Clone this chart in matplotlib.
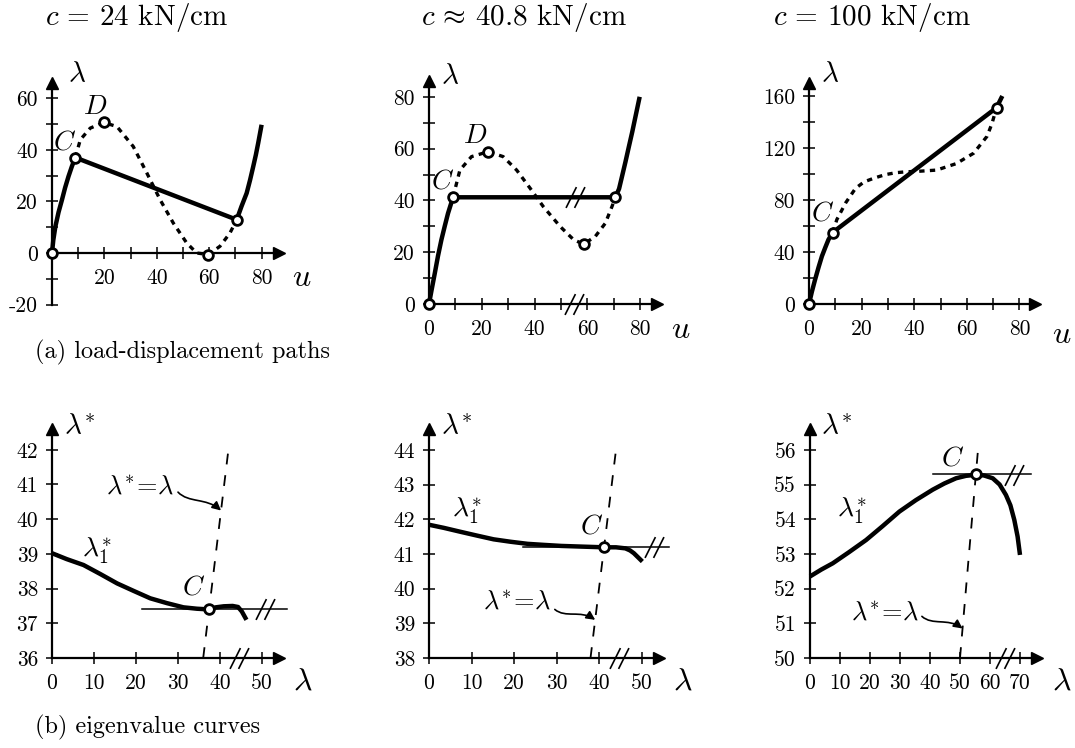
import numpy as np
import matplotlib
matplotlib.use("Agg")
import matplotlib.pyplot as plt
from matplotlib.path import Path
from matplotlib.patches import FancyArrowPatch
from matplotlib.transforms import IdentityTransform

plt.rcParams["font.family"] = ["cmr10", "DejaVu Serif"]
plt.rcParams["mathtext.fontset"] = "cm"
plt.rcParams["axes.unicode_minus"] = False

W, H = 1075, 748

# ------------------------------------------------------------
# DATA
# ------------------------------------------------------------
titles = [r"$c\,=\,24$ kN/cm", r"$c\,\approx\,40.8$ kN/cm", r"$c\,=\,100$ kN/cm"]

# (a) load-displacement paths: u, lambda
a1_solid_u = [0, 0.5, 1.3, 2.5, 3.8, 5.0, 6.3, 7.6, 8.9, 70.5, 72.3, 74.3, 75.6, 76.8, 77.8, 78.7, 80]
a1_solid_l = [0, 5.0, 10.3, 15.8, 20.6, 25.3, 29.7, 33.6, 37, 12.9, 18.0, 23.2, 28.3, 33.5, 38.0, 42.6, 49.7]
a1_dot_u = [8.9, 10.8, 14.6, 19.7, 24.8, 31, 36.2, 41.3, 46.3, 51.4, 55.2, 59.7, 64.1, 67.9, 70.5]
a1_dot_l = [37, 43.9, 48.4, 50.6, 49, 41.3, 31, 20.6, 11.6, 3.9, 0, -0.6, 2.6, 7.7, 12.9]
a1_pts_u = [0, 8.9, 19.7, 59.7, 70.5]
a1_pts_l = [0, 37, 50.6, -0.6, 12.9]

a2_solid_u = [0, 1.0, 2.2, 3.4, 4.7, 6.0, 7.2, 9.1, 70.6, 72.0, 73.1, 74.4, 75.7, 77.0, 78.2, 79.8]
a2_solid_l = [0, 5.5, 11.9, 18.5, 24.8, 30.2, 35, 41.2, 41.2, 44.5, 49.2, 54.8, 60.7, 66.5, 72.3, 80]
a2_dot_u = [9.1, 11.7, 16.1, 22.4, 28.1, 33.2, 38.3, 43.3, 49.7, 54.8, 58.6, 63, 66.8, 69.3, 70.6]
a2_dot_l = [41.2, 51.7, 56.9, 58.8, 56.9, 51.7, 44.7, 37.6, 29.9, 24.8, 23.1, 26.1, 31.2, 37.6, 41.2]
a2_pts_u = [0, 9.1, 22.4, 58.6, 70.6]
a2_pts_l = [0, 41.2, 58.8, 23.1, 41.2]

a3_solid_u = [0, 1.1, 2.3, 3.6, 4.9, 6.2, 7.4, 9, 71.3, 73.5]
a3_solid_l = [0, 9.5, 18.7, 28.0, 36.7, 43.5, 49.5, 55, 151, 160]
a3_dot_u = [9, 10.6, 14.0, 17.7, 21.0, 25, 29, 33, 37, 41, 48.5, 56, 62.6, 67.7, 69.6, 71.3]
a3_dot_l = [55, 65, 78, 89, 94, 97, 99.5, 101, 101.7, 102, 103, 108, 116, 129, 139, 151]
a3_pts_u = [0, 9, 71.3]
a3_pts_l = [0, 55, 151]

# (b) eigenvalue curves: lambda, lambda*_1
b1_lam = [0, 3.5, 7.5, 11.5, 15.5, 19.5, 23.4, 27.4, 31.3, 34.5, 37.4, 39, 40.9, 43, 44.3, 45.2, 46.3]
b1_eig = [39.02, 38.85, 38.68, 38.42, 38.15, 37.93, 37.72, 37.58, 37.46, 37.42, 37.40, 37.46, 37.49, 37.5, 37.47, 37.34, 37.1]
b2_lam = [0, 3.5, 7.3, 11.2, 15.2, 19.2, 23.2, 27, 31.1, 36, 41.2, 44, 46.2, 47.3, 48.2, 49.2, 50.2]
b2_eig = [41.84, 41.75, 41.64, 41.53, 41.42, 41.35, 41.29, 41.26, 41.23, 41.21, 41.19, 41.19, 41.16, 41.1, 41.02, 40.9, 40.78]
b3_lam = [0, 3.8, 7.6, 13, 18.7, 24.2, 29.8, 35.3, 40.9, 44.8, 48.7, 52, 55.3, 58, 60.9, 63.2, 65.3, 66.8, 68.1, 69.2, 70]
b3_eig = [52.35, 52.55, 52.73, 53.05, 53.4, 53.8, 54.22, 54.55, 54.85, 55.03, 55.18, 55.25, 55.28, 55.26, 55.18,
          55.0, 54.7, 54.4, 53.98, 53.5, 52.97]

# critical points C (lambda* = lambda)
b_crit = [37.4, 41.2, 55.3]
# horizontal tangents through C: lambda range
b_tangent = [(21.4, 56), (22, 56.5), (40.9, 73.7)]
# dashed line lambda* = lambda, lambda range
b_diag = [(36, 42), (38, 44), (50, 56)]

# break marks "//" (x position on axis, x position on line)
a2_breaks = [(55, 0), (55.4, 41.2)]
b_breaks = [[(44.5, 36), (50.8, 37.4)], [(44.7, 38), (53, 41.2)], [(65, 50), (68, 55.28)]]


# ------------------------------------------------------------
# HELPERS
# ------------------------------------------------------------
BRK = Path([(-1.0, -1.1), (0.1, 1.1), (-0.1, -1.1), (1.0, 1.1)],
           [Path.MOVETO, Path.LINETO, Path.MOVETO, Path.LINETO])


def px(x, y):
    return x / W, 1 - y / H


def make_axes(fig, x0, sx, xlim, y0, sy, ylim):
    # x0, y0: pixel position of (xlim[0], ylim[0]); sx, sy: pixels per unit
    left = x0
    right = x0 + (xlim[1] - xlim[0]) * sx
    bottom = y0
    top = y0 - (ylim[1] - ylim[0]) * sy
    ax = fig.add_axes([left / W, 1 - bottom / H, (right - left) / W, (bottom - top) / H])
    ax.set_xlim(*xlim)
    ax.set_ylim(*ylim)
    ax.patch.set_alpha(0)
    for s in ["top", "right"]:
        ax.spines[s].set_visible(False)
    for s in ["left", "bottom"]:
        ax.spines[s].set_linewidth(1.6)
    ax.spines["left"].set_position(("data", xlim[0]))
    return ax


def style_ticks(ax, xticks, xlabels, yticks, ylabels, xpad=7, ypad=6):
    ax.set_xticks(xticks)
    ax.set_xticklabels(xlabels)
    ax.set_yticks(yticks)
    ax.set_yticklabels(ylabels)
    ax.tick_params(direction="inout", length=8, width=1.1, labelsize=15.5)
    ax.tick_params(axis="x", pad=xpad)
    ax.tick_params(axis="y", pad=ypad)


def arrows(ax, ybase):
    ax.plot(1, ybase, ">", color="k", ms=8, transform=ax.get_yaxis_transform(), clip_on=False)
    ax.plot(0, 1, "^", color="k", ms=8, transform=ax.get_xaxis_transform(), clip_on=False)


def open_pts(ax, x, y):
    ax.plot(x, y, "o", ms=7, mfc="white", mec="k", mew=2.0, clip_on=False, zorder=5)


def brk(ax, pts):
    for x, y in pts:
        ax.plot(x, y, marker=BRK, ms=15, mew=1.2, color="k", ls="none", clip_on=False, zorder=6)


def wave_arrow(fig, ax, start, end, amp=6):
    # S-shaped pointer from the label to the dashed line
    s = ax.transData.transform(start)
    e = ax.transData.transform(end)
    d = e - s
    n = np.hypot(*d)
    perp = np.array([-d[1], d[0]]) / n * amp
    path = Path([s, s + d * 0.3 - perp, s + d * 0.6 + perp, e],
                [Path.MOVETO, Path.CURVE4, Path.CURVE4, Path.CURVE4])
    arr = FancyArrowPatch(path=path, arrowstyle="-|>", mutation_scale=13, lw=1.2, color="k",
                          transform=IdentityTransform())
    fig.add_artist(arr)


# ------------------------------------------------------------
# FIGURE
# ------------------------------------------------------------
fig = plt.figure(figsize=(W / 100, H / 100), dpi=100)

SOLID = dict(color="k", lw=3.2, solid_capstyle="butt", clip_on=False)
DOT = dict(color="k", lw=2.4, ls=(0, (1.6, 1.6)), clip_on=False)

# ---- a1
ax = make_axes(fig, 52, 2.62, (0, 86.5), 304.6, 2.58, (-20, 66))
ax.spines["bottom"].set_position(("data", 0))
style_ticks(ax, list(range(10, 90, 10)), ["", "20", "", "40", "", "60", "", "80"],
            list(range(-20, 70, 10)), ["-20", "", "0", "", "20", "", "40", "", "60"])
arrows(ax, 0)
ax.plot(a1_dot_u, a1_dot_l, **DOT)
ax.plot(a1_solid_u, a1_solid_l, **SOLID)
open_pts(ax, a1_pts_u, a1_pts_l)
ax.text(4.8, 43, r"$C$", fontsize=20, ha="center", va="center")
ax.text(16.5, 56.5, r"$D$", fontsize=20, ha="center", va="center")

# ---- a2
ax = make_axes(fig, 429, 2.64, (0, 86.5), 304, 2.59, (0, 86))
style_ticks(ax, list(range(0, 90, 10)), ["0", "", "20", "", "40", "", "60", "", "80"],
            list(range(0, 90, 10)), ["0", "", "20", "", "40", "", "60", "", "80"])
arrows(ax, 0)
ax.plot(a2_dot_u, a2_dot_l, **DOT)
ax.plot(a2_solid_u, a2_solid_l, **SOLID)
open_pts(ax, a2_pts_u, a2_pts_l)
brk(ax, a2_breaks)
ax.text(5, 47.5, r"$C$", fontsize=20, ha="center", va="center")
ax.text(17.5, 65, r"$D$", fontsize=20, ha="center", va="center")

# ---- a3
ax = make_axes(fig, 809, 2.63, (0, 86), 304, 1.3, (0, 170))
style_ticks(ax, list(range(0, 90, 10)), ["0", "", "20", "", "40", "", "60", "", "80"],
            list(range(0, 180, 20)), ["0", "", "40", "", "80", "", "120", "", "160"])
arrows(ax, 0)
ax.plot(a3_dot_u, a3_dot_l, **DOT)
ax.plot(a3_solid_u, a3_solid_l, **SOLID)
open_pts(ax, a3_pts_u, a3_pts_l)
ax.text(5, 70, r"$C$", fontsize=20, ha="center", va="center")

# ---- b panels
b_geom = [
    (52, 4.2, (0, 54), 658, 34.7, (36, 42.6)),
    (429, 4.25, (0, 54), 658, 34.7, (38, 44.6)),
    (810, 3.0, (0, 75.5), 658, 34.7, (50, 56.6)),
]
b_xt = [list(range(0, 60, 10)), list(range(0, 60, 10)), list(range(0, 80, 10))]
b_yt = [list(range(36, 43)), list(range(38, 45)), list(range(50, 57))]
b_curves = [(b1_lam, b1_eig), (b2_lam, b2_eig), (b3_lam, b3_eig)]
b_eq_text = [(21, 40.93), (20.8, 39.62), (25, 51.3)]
b_eq_from = [(30, 40.78), (29.6, 39.4), (37.3, 51.2)]
b_eq_tip = [40.25, 39.1, 50.85]
b_l1_text = [(10.7, 39.1), (9, 42.25), (14, 54.25)]
b_c_text = [(33.6, 38.05), (38.2, 41.8), (47.5, 55.75)]

for i in range(3):
    ax = make_axes(fig, *b_geom[i])
    style_ticks(ax, b_xt[i], [str(v) for v in b_xt[i]], b_yt[i], [str(v) for v in b_yt[i]])
    arrows(ax, b_geom[i][5][0])
    lam, eig = b_curves[i]
    d0, d1 = b_diag[i]
    ax.plot([d0, d1], [d0, d1], color="k", lw=1.3, ls=(0, (6, 6)), clip_on=False)
    t0, t1 = b_tangent[i]
    ax.plot([t0, t1], [b_crit[i], b_crit[i]], color="k", lw=1.1, clip_on=False)
    ax.plot(lam, eig, **SOLID)
    open_pts(ax, [b_crit[i]], [b_crit[i]])
    brk(ax, b_breaks[i])
    ax.text(*b_eq_text[i], r"$\lambda^{*}\!=\!\lambda$", fontsize=19, ha="center", va="center")
    wave_arrow(fig, ax, b_eq_from[i], (b_eq_tip[i], b_eq_tip[i]))
    ax.text(*b_l1_text[i], r"$\lambda_1^{*}$", fontsize=20, ha="center", va="center")
    ax.text(*b_c_text[i], r"$C$", fontsize=20, ha="center", va="center")

# ---- texts
for t, x in zip(titles, [137, 524, 872]):
    fig.text(*px(x, 18), t, fontsize=21, ha="center", va="center")

for (x, y) in [(77, 75), (450, 77), (830, 75)]:
    fig.text(*px(x, y), r"$\lambda$", fontsize=21, ha="center", va="center")
for (x, y) in [(302, 278), (681, 330), (1062, 335)]:
    fig.text(*px(x, y), r"$u$", fontsize=23, ha="center", va="center")
for (x, y) in [(80, 428), (457, 428), (837, 428)]:
    fig.text(*px(x, y), r"$\lambda^{*}$", fontsize=21, ha="center", va="center")
for (x, y) in [(303, 682), (683, 682), (1062, 682)]:
    fig.text(*px(x, y), r"$\lambda$", fontsize=23, ha="center", va="center")

fig.text(*px(35, 352), "(a) load-displacement paths", fontsize=17.5, ha="left", va="center")
fig.text(*px(35, 727), "(b) eigenvalue curves", fontsize=17.5, ha="left", va="center")

fig.savefig("out.png", dpi=100)
